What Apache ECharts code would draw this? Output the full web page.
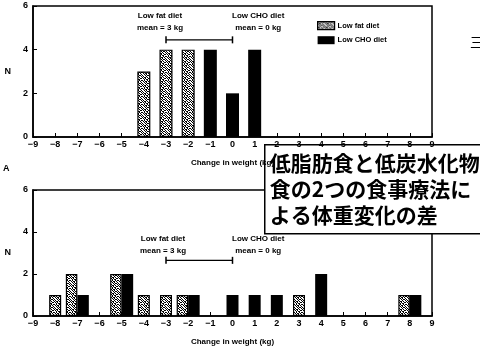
<!DOCTYPE html>
<html>
<head>
<meta charset="utf-8">
<script src="https://cdn.jsdelivr.net/npm/echarts@6/dist/echarts.min.js"></script>
<style>
  html, body { margin: 0; padding: 0; background: #fff; }
  #chart { width: 480px; height: 347px; }
</style>
</head>
<body>
<div id="chart"></div>
<script>
// weight change (kg) -> number of subjects
const topFat = [[-4, 3], [-3, 4], [-2, 4]]
const topCho = [[-1, 4], [0, 2], [1, 4]]
const bottomFat = [[-8, 1], [-7, 2], [-5, 2], [-4, 1], [-3, 1], [-2, 1], [3, 1], [8, 1]]
const bottomCho = [[-7, 1], [-5, 2], [-2, 1], [0, 1], [1, 1], [2, 1], [4, 2], [8, 1]]
const meanFat = -3
const meanCho = 0
const meanLevels = [4.45, 2.65]
const seriesNames = ['Low fat diet', 'Low CHO diet']
const xLabelTitle = 'Change in weight (kg)'
const noteLines = ['低脂肪食と低炭水化物', '食の2つの食事療法に', 'よる体重変化の差']

const FONT = '"Liberation Sans", Arial, sans-serif'

// speckled fill for the low fat bars (fixed mask, scan-like)
const mask = [
  '10010110',
  '01101001',
  '10100100',
  '01011010',
  '00100101',
  '11010010',
  '01001101',
  '10110000'
]
const tile = document.createElement('canvas')
tile.width = 8
tile.height = 8
const tctx = tile.getContext('2d')
tctx.fillStyle = '#fff'
tctx.fillRect(0, 0, 8, 8)
tctx.fillStyle = '#000'
mask.forEach((row, y) => row.split('').forEach((c, x) => { if (c === '1') tctx.fillRect(x, y, 1, 1) }))
const speckle = { image: tile, repeat: 'repeat' }

const fatStyle = { color: speckle, borderColor: '#000', borderWidth: 1.2 }
const choStyle = { color: '#000' }

// bottom panel: split into side-by-side pairs and lone bars
const choXs = bottomCho.map(d => d[0])
const fatXs = bottomFat.map(d => d[0])
const pairFat = bottomFat.filter(d => choXs.includes(d[0]))
const pairCho = bottomCho.filter(d => fatXs.includes(d[0]))
const loneFat = bottomFat.filter(d => !choXs.includes(d[0]))
const loneCho = bottomCho.filter(d => !fatXs.includes(d[0]))

const chart = echarts.init(document.getElementById('chart'))

const xAxisBase = (gridIndex) => ({
  type: 'value',
  gridIndex,
  min: -9,
  max: 9,
  interval: 1,
  name: xLabelTitle,
  nameLocation: 'middle',
  nameGap: 22,
  nameTextStyle: { color: '#000', fontFamily: FONT, fontWeight: 'bold', fontSize: 8 },
  splitLine: { show: false },
  axisLine: { onZero: false, lineStyle: { color: '#000', width: 1.5 } },
  axisTick: { inside: true, length: 4, lineStyle: { color: '#000' } },
  axisLabel: {
    color: '#000', fontFamily: FONT, fontWeight: 'bold', fontSize: 9, margin: 3,
    formatter: v => String(v).replace('-', '\u2212')
  }
})

const yAxisBase = (gridIndex) => ({
  type: 'value',
  gridIndex,
  min: 0,
  max: 6,
  interval: 2,
  name: 'N',
  nameLocation: 'middle',
  nameRotate: 0,
  nameGap: 22,
  nameTextStyle: { color: '#000', fontFamily: FONT, fontWeight: 'bold', fontSize: 9 },
  splitLine: { show: false },
  axisLine: { onZero: false, lineStyle: { color: '#000', width: 1.5 } },
  axisTick: { inside: true, length: 4, lineStyle: { color: '#000' } },
  axisLabel: { color: '#000', fontFamily: FONT, fontWeight: 'bold', fontSize: 9, margin: 5 }
})

const meanLine = (xi, yi, level) => ({
  type: 'line',
  xAxisIndex: xi,
  yAxisIndex: yi,
  data: [[meanFat, level], [meanCho, level]],
  symbol: 'rect',
  symbolSize: [1.5, 7],
  itemStyle: { color: '#000' },
  lineStyle: { color: '#000', width: 1.2 },
  silent: true,
  z: 5
})

const annot = (x, y, lines) => ({
  type: 'text',
  left: x,
  top: y,
  style: {
    text: lines.join('\n'),
    fill: '#000',
    font: 'bold 8px ' + FONT,
    textAlign: 'center',
    lineHeight: 12
  }
})

const option = {
  animation: false,
  backgroundColor: '#fff',
  grid: [
    { left: 33, top: 6, width: 399, height: 131, show: true, borderColor: '#000', borderWidth: 1.5 },
    { left: 33, top: 190, width: 399, height: 132, show: true, borderColor: '#000', borderWidth: 1.5 }
  ],
  xAxis: [
    xAxisBase(0),
    xAxisBase(1),
    { type: 'value', gridIndex: 1, min: -9, max: 9, show: false }
  ],
  yAxis: [yAxisBase(0), yAxisBase(1)],
  legend: {
    data: [
      { name: seriesNames[0], itemStyle: fatStyle },
      { name: seriesNames[1], itemStyle: choStyle }
    ],
    orient: 'vertical',
    left: 312,
    top: 16,
    itemWidth: 17,
    itemHeight: 8,
    itemGap: 6,
    icon: 'rect',
    selectedMode: false,
    textStyle: { color: '#000', fontFamily: FONT, fontWeight: 'bold', fontSize: 7.5, padding: [0, 0, 0, -2] }
  },
  series: [
    { name: seriesNames[0], type: 'bar', xAxisIndex: 0, yAxisIndex: 0, data: topFat, barWidth: 13, barGap: '-100%', itemStyle: fatStyle },
    { name: seriesNames[1], type: 'bar', xAxisIndex: 0, yAxisIndex: 0, data: topCho, barWidth: 13, barGap: '-100%', itemStyle: choStyle },
    { name: seriesNames[0], type: 'bar', xAxisIndex: 1, yAxisIndex: 1, data: loneFat, barWidth: 12, barGap: '-100%', itemStyle: fatStyle },
    { name: seriesNames[1], type: 'bar', xAxisIndex: 1, yAxisIndex: 1, data: loneCho, barWidth: 12, barGap: '-100%', itemStyle: choStyle },
    { name: seriesNames[0], type: 'bar', xAxisIndex: 2, yAxisIndex: 1, data: pairFat, barWidth: 11.5, barGap: 0, itemStyle: fatStyle },
    { name: seriesNames[1], type: 'bar', xAxisIndex: 2, yAxisIndex: 1, data: pairCho, barWidth: 11.5, barGap: 0, itemStyle: choStyle },
    meanLine(0, 0, meanLevels[0]),
    meanLine(1, 1, meanLevels[1])
  ],
  graphic: [
    annot(137, 10, [seriesNames[0], 'mean = 3 kg']),
    annot(232, 10, [seriesNames[1], 'mean = 0 kg']),
    annot(140, 233, [seriesNames[0], 'mean = 3 kg']),
    annot(232, 233, [seriesNames[1], 'mean = 0 kg']),
    { type: 'text', left: 3, top: 164, style: { text: 'A', fill: '#000', font: 'bold 9px ' + FONT } },
    { type: 'text', left: 470, top: 36, style: { text: '三', fill: '#000', font: '13px "Noto Sans CJK JP"' } },
    {
      type: 'group',
      left: 264,
      top: 144,
      z: 100,
      children: [
        { type: 'rect', shape: { x: 0, y: 0, width: 230, height: 89 }, style: { fill: '#fff', stroke: '#000', lineWidth: 1.5 } },
        {
          type: 'text',
          x: 5,
          y: 5,
          style: {
            text: noteLines.join('\n'),
            fill: '#000',
            font: 'bold 21px "Noto Sans CJK JP"',
            lineHeight: 26
          }
        }
      ]
    }
  ]
}

chart.setOption(option)
</script>
</body>
</html>
